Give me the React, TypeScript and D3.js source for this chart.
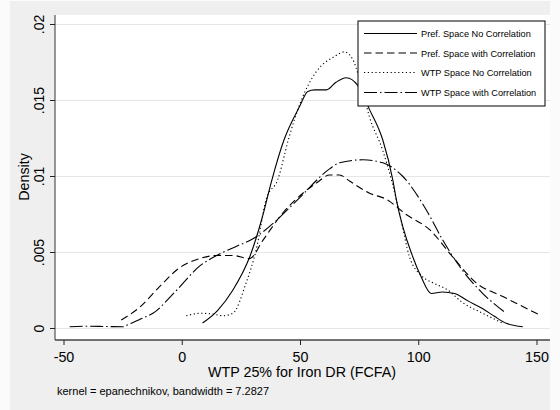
import React from "react";
import * as d3 from "d3";

const xTicks = [-50, 0, 50, 100, 150];
const yTicks = [0, 0.005, 0.01, 0.015, 0.02];
const yTickLabels = ["0", ".005", ".01", ".015", ".02"];

const seriesNames = [
  "Pref. Space No Correlation",
  "Pref. Space with Correlation",
  "WTP Space No Correlation",
  "WTP Space with Correlation",
];

const prefNoX = [8.6, 15, 21.3, 28.5, 34, 37.6, 43, 49.6, 53.1, 56, 61, 65, 69.3, 74.2, 79.2, 84.8, 89, 90.5, 97.5, 101, 105.3, 110, 115.1, 121, 127.1, 132, 137, 144];
const prefNoY = [0.00036, 0.0012, 0.0025, 0.0047, 0.0074, 0.0096, 0.0124, 0.0146, 0.0156, 0.0157, 0.0157, 0.0162, 0.0165, 0.016, 0.0144, 0.0124, 0.0098, 0.0085, 0.0047, 0.0034, 0.0023, 0.0024, 0.0023, 0.0018, 0.0013, 0.0008, 0.00034, 0.00012];

const prefCorX = [-25.8, -18, -9.6, -1.1, 7.3, 14.4, 21.4, 28.5, 34.1, 42.5, 51, 57, 62.3, 66.5, 70.7, 79.2, 86.3, 94.7, 104.6, 114.4, 124.3, 135.6, 151.1];
const prefCorY = [0.00056, 0.0014, 0.00275, 0.004, 0.0046, 0.0048, 0.0048, 0.0046, 0.0058, 0.0076, 0.0089, 0.0096, 0.0101, 0.0101, 0.0097, 0.0089, 0.0085, 0.0075, 0.0065, 0.0047, 0.003, 0.0021, 0.00089];

const wtpNoX = [1.7, 8, 13, 17.2, 21.4, 27, 31.3, 35.5, 40.4, 45, 50.3, 56.7, 64.4, 68.6, 72.1, 75, 79.2, 84.8, 88.4, 92, 96.1, 101, 106, 111.6, 118.6, 127.1, 135.6];
const wtpNoY = [0.00084, 0.001, 0.00095, 0.00084, 0.001, 0.003, 0.0052, 0.0085, 0.0098, 0.0125, 0.015, 0.0169, 0.0179, 0.0182, 0.0177, 0.0164, 0.0139, 0.0117, 0.0098, 0.0075, 0.0047, 0.0035, 0.003, 0.0026, 0.0017, 0.001, 0.00034];

const wtpCorX = [-47.6, -40, -32, -25, -23.7, -18, -12.4, -2.5, 7.3, 15.8, 22.8, 29.9, 39.7, 49.6, 62.3, 66.5, 76.4, 84.8, 93.3, 103.2, 110.2, 118.6, 127.1, 137];
const wtpCorY = [0.00012, 0.00015, 0.00013, 0.00012, 0.0002, 0.0006, 0.001, 0.0025, 0.0041, 0.0049, 0.0054, 0.0059, 0.0071, 0.0086, 0.0105, 0.0109, 0.0111, 0.0109, 0.01, 0.0078, 0.0058, 0.0038, 0.0023, 0.001];

const dashes = ["", "7.5,4", "1.2,2.6", "13,3,1.5,3"];

export default function App() {
  const W = 560, H = 410;
  const plotL = 55, plotR = 550, plotT = 15, plotB = 340;
  const x = d3.scaleLinear().domain([-50, 150]).range([64, 537]);
  const y = d3.scaleLinear().domain([0, 0.02]).range([328.5, 24.5]);
  const line = d3
    .line<[number, number]>()
    .x((d) => x(d[0]))
    .y((d) => y(d[1]))
    .curve(d3.curveMonotoneX);
  const series = [
    d3.zip(prefNoX, prefNoY),
    d3.zip(prefCorX, prefCorY),
    d3.zip(wtpNoX, wtpNoY),
    d3.zip(wtpCorX, wtpCorY),
  ] as [number, number][][];
  const font = "Liberation Sans, Arial, Helvetica, sans-serif";
  const legX = 358, legY = 21, legW = 187, legH = 85;
  const rowY = [33.5, 53, 72.5, 92.5];
  return (
    <svg width={W} height={H} style={{ position: "absolute", left: 0, top: 0 }} fontFamily={font}>
      <rect x={0} y={0} width={W} height={H} fill="#fbfbfb" />
      <rect x={10} y={1} width={540} height={H - 1} fill="#efefef" />
      <rect x={plotL} y={plotT} width={plotR - plotL} height={plotB - plotT} fill="#ffffff" />
      {yTicks.map((t) => (
        <line key={"g" + t} x1={plotL} x2={plotR} y1={y(t)} y2={y(t)} stroke="#e6e6e6" strokeWidth={1} />
      ))}
      {series.map((s, i) => (
        <path key={i} d={line(s) || ""} fill="none" stroke="#000" strokeWidth={1.1} strokeDasharray={dashes[i] || undefined} />
      ))}
      <line x1={plotL} x2={plotL} y1={plotT} y2={plotB} stroke="#333" strokeWidth={1} />
      <line x1={plotL} x2={plotR} y1={plotB} y2={plotB} stroke="#444" strokeWidth={1.3} />
      {yTicks.map((t, i) => (
        <g key={"y" + t}>
          <line x1={plotL - 5} x2={plotL} y1={y(t)} y2={y(t)} stroke="#222" />
          <text
            transform={`translate(${44},${y(t)}) rotate(-90)`}
            textAnchor="middle"
            fontSize={14}
          >
            {yTickLabels[i]}
          </text>
        </g>
      ))}
      {xTicks.map((t) => (
        <g key={"x" + t}>
          <line x1={x(t)} x2={x(t)} y1={plotB} y2={plotB + 5} stroke="#222" />
          <text x={x(t)} y={362} textAnchor="middle" fontSize={14.3}>
            {t}
          </text>
        </g>
      ))}
      <text transform={`translate(${29},${177}) rotate(-90)`} textAnchor="middle" fontSize={14.3}>
        Density
      </text>
      <text x={302} y={377} textAnchor="middle" fontSize={14.3}>
        WTP 25% for Iron DR (FCFA)
      </text>
      <text x={57} y={395} fontSize={11}>
        kernel = epanechnikov, bandwidth = 7.2827
      </text>
      <rect x={legX} y={legY} width={legW} height={legH} fill="#fff" stroke="#000" strokeWidth={1} />
      {seriesNames.map((n, i) => (
        <g key={n}>
          <line x1={364} x2={417} y1={rowY[i]} y2={rowY[i]} stroke="#000" strokeWidth={1.1} strokeDasharray={dashes[i] || undefined} />
          <text x={421} y={rowY[i] + 3.5} fontSize={9.2}>
            {n}
          </text>
        </g>
      ))}
    </svg>
  );
}
